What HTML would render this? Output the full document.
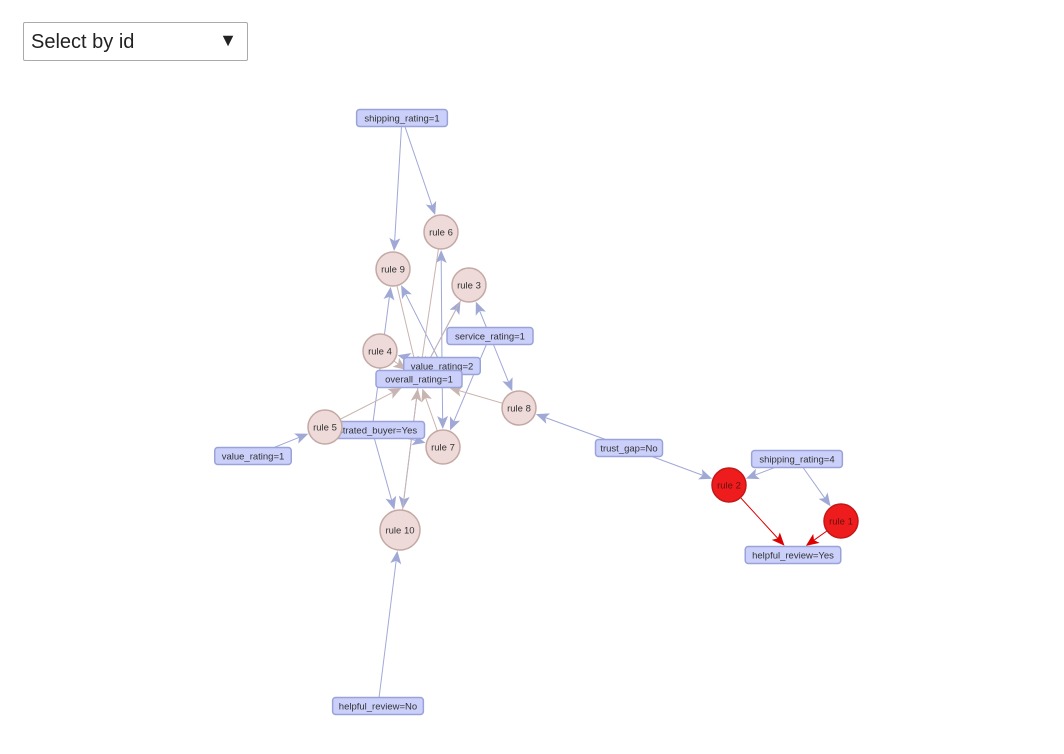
<!DOCTYPE html>
<html><head><meta charset="utf-8"><style>
body{margin:0;background:#fff;width:1064px;height:754px;overflow:hidden;font-family:"Liberation Sans",Arial,sans-serif}
#sel{position:absolute;left:23px;top:22px;width:225px;height:39px;border:1px solid #aaa;border-radius:2px;box-sizing:border-box;font-size:20px;color:#222}
#sel span{position:absolute;left:7px;top:8px}
#sel b{position:absolute;right:10px;top:7px;font-size:18px;font-weight:normal}
svg{position:absolute;left:0;top:0}
</style></head><body>
<div id="sel"><span>Select by id</span><b>▼</b></div>
<svg id="net" width="1064" height="754"></svg>
<script>
const nodeIds=["shipping_rating=1","service_rating=1","value_rating=2","overall_rating=1","frustrated_buyer=Yes","value_rating=1","trust_gap=No","shipping_rating=4","helpful_review=Yes","helpful_review=No","rule 6","rule 9","rule 3","rule 4","rule 8","rule 5","rule 7","rule 10","rule 2","rule 1"];
const nodeX=[402,490,442,419,372,253,629,797,793,378,441,393,469,380,519,325,443,400,729,841];
const nodeY=[118,336,366,379,430,456,448,459,555,706,232,269,285,351,408,427,447,530,485,521];
const nodeR=[0,0,0,0,0,0,0,0,0,0,17,17,17,17,17,17,17,20,17,17];
const nodeRed=["rule 2","rule 1"];
const edgeFrom=["shipping_rating=1","shipping_rating=1","value_rating=1","trust_gap=No","trust_gap=No","shipping_rating=4","shipping_rating=4","service_rating=1","service_rating=1","service_rating=1","value_rating=2","value_rating=2","value_rating=2","value_rating=2","frustrated_buyer=Yes","frustrated_buyer=Yes","frustrated_buyer=Yes","overall_rating=1","overall_rating=1","helpful_review=No","rule 9","rule 6","rule 3","rule 4","rule 8","rule 5","rule 7","rule 10","rule 2","rule 1"];
const edgeTo=["rule 9","rule 6","rule 5","rule 8","rule 2","rule 2","rule 1","rule 3","rule 8","rule 7","rule 9","rule 4","rule 6","rule 7","rule 9","rule 10","rule 7","rule 10","rule 3","rule 10","overall_rating=1","overall_rating=1","overall_rating=1","overall_rating=1","overall_rating=1","overall_rating=1","overall_rating=1","overall_rating=1","helpful_review=Yes","helpful_review=Yes"];
const NS="http://www.w3.org/2000/svg";
const svg=document.getElementById('net');
function mk(t,a,p){const e=document.createElementNS(NS,t);for(const k in a)e.setAttribute(k,a[k]);(p||svg).appendChild(e);return e;}
function isRule(id){return id.startsWith('rule');}
function boxW(id){return id.length*4.75+10;}
function pos(id){const i=nodeIds.indexOf(id);return [nodeX[i],nodeY[i]];}
const eg=mk('g',{});


edgeFrom.forEach((f,i)=>{
  const t=edgeTo[i];const [x1,y1]=pos(f),[x2,y2]=pos(t);
  const dx=x2-x1,dy=y2-y1,L=Math.hypot(dx,dy),ux=dx/L,uy=dy/L;
  let d;
  if(isRule(t))d=nodeR[nodeIds.indexOf(t)]+1;else{const hw=boxW(t)/2,hh=8.5;d=Math.min(Math.abs(ux)>1e-6?hw/Math.abs(ux):1e9,Math.abs(uy)>1e-6?hh/Math.abs(uy):1e9)+1;}
  const ex=x2-ux*d,ey=y2-uy*d;
  const red=nodeRed.includes(f);const brown=isRule(f)&&!red;
  const col=red?'#d00':(brown?'#c8b4b0':'#a0a8d6');
  const g=mk('g',{},eg);
  
  
  mk('line',{x1:x1,y1:y1,x2:ex-ux*8,y2:ey-uy*8,stroke:col,'stroke-width':1},g);
  const px=-uy,py=ux,bx=ex-ux*13,by=ey-uy*13;
  mk('polygon',{points:`${ex},${ey} ${bx+px*5.5},${by+py*5.5} ${ex-ux*10},${ey-uy*10} ${bx-px*5.5},${by-py*5.5}`,fill:col},g);
});
nodeIds.forEach((id,i)=>{
  const x=nodeX[i],y=nodeY[i];
  const g=mk('g',{});
  
  
  if(isRule(id)){
    const red=nodeRed.includes(id);
    mk('circle',{cx:x,cy:y,r:nodeR[i],fill:red?'#ee1c1c':'#eedad8',stroke:red?'#c21818':'#c4a8a4','stroke-width':1.5},g);
    mk('text',{x:x,y:y+3.3,'text-anchor':'middle','font-size':9.5,fill:red?'#6a1010':'#333','font-family':'Liberation Sans, sans-serif'},g).textContent=id;
  }else{
    const w=boxW(id);
    mk('rect',{x:x-w/2,y:y-8.5,width:w,height:17,rx:3,fill:'#cbd0fb',stroke:'#9aa3d8','stroke-width':1.5},g);
    mk('text',{x:x,y:y+3.3,'text-anchor':'middle','font-size':9.5,fill:'#333','font-family':'Liberation Sans, sans-serif'},g).textContent=id;
  }
});
</script>
</body></html>
